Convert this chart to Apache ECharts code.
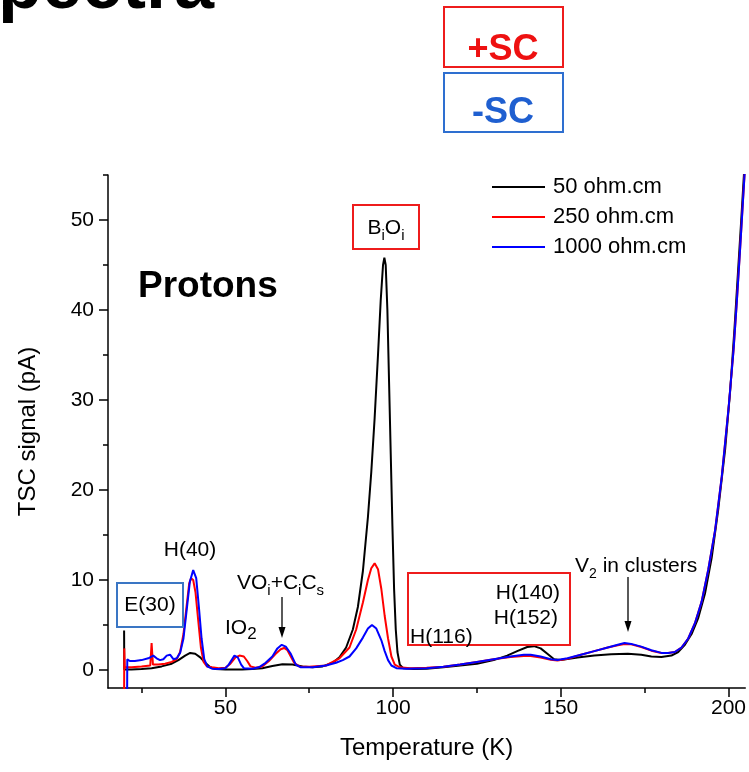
<!DOCTYPE html>
<html><head><meta charset="utf-8">
<script src="https://cdn.jsdelivr.net/npm/echarts@6/dist/echarts.min.js"></script>
<style>html,body{margin:0;padding:0;background:#fff}#c{width:749px;height:772px}</style>
</head><body><div id="c"></div><script>
const seriesNames = ['50 ohm.cm', '250 ohm.cm', '1000 ohm.cm'];
const seriesColors = ['#000000', '#ff0000', '#0000ff'];

const blackT = [19.8,19.85,20.3,22,25,28,31,34,36,38,39.5,41,42.5,44,45.5,47,50,55,58,61,64,67,70,73,76,79,82,84,86,88,89.5,91,92.5,93.5,94.5,95.5,96.3,97,97.4,97.8,98.3,98.8,99.3,99.8,100.3,100.8,101.3,102,103,106,110,115,120,125,130,134,137,140,142,144,146,148,150,155,160,165,170,174,177,180,183,185,187,189,191,193,195,197,199,200.5,201.8,202.8,203.8,204.6,205.3];
const blackV = [4.4,0.05,0.05,0.05,0.1,0.2,0.4,0.7,1.1,1.6,1.9,1.8,1.4,0.8,0.3,0.1,0.05,0.05,0.1,0.2,0.45,0.65,0.6,0.4,0.3,0.4,0.8,1.4,2.5,4.5,7,11,17,22,28,35,41,45,45.8,45,40,32,24,16,9,4.5,2,0.6,0.2,0.1,0.15,0.3,0.5,0.7,1.1,1.6,2.1,2.55,2.65,2.4,1.8,1.2,1.1,1.4,1.6,1.75,1.8,1.7,1.5,1.45,1.6,2.0,2.8,4.0,5.8,8.5,12.5,18,24.5,31,38,44,50,55,60];

const redT = [19.8,19.85,20.0,22,25,27.6,28.0,28.4,30,32,34,35.5,36.5,37.5,38.4,39.2,39.8,40.4,41.1,41.9,42.7,43.5,44.5,46,48,50,51.5,53,54.2,55.5,56.5,57.5,59,61,63,65,66.5,67.5,68.5,69.5,70.5,72,75,80,84,87,89,91,92.5,93.5,94.5,95.5,96.5,97.5,98.5,99.5,100.5,102,105,110,115,120,125,130,135,139,141,144,147,149,152,156,160,164,167,169,171,174,177,180,182,184,186,188,190,192,194,196,198,200,201.5,202.5,203.5,204.3,205.1];
const redV = [-3,2.4,0.3,0.3,0.4,0.5,3.0,0.6,0.6,0.7,0.9,1.2,2.0,4.0,7.0,9.6,10.2,10.0,8.6,5.5,2.5,0.9,0.4,0.3,0.2,0.25,0.7,1.4,1.6,1.5,1.0,0.4,0.25,0.4,1.0,1.8,2.3,2.45,2.2,1.5,0.8,0.4,0.35,0.5,1.3,2.5,4.5,7.5,10,11.3,11.85,11.2,9,6,3.5,1.5,0.6,0.3,0.2,0.25,0.35,0.6,0.9,1.2,1.45,1.55,1.55,1.4,1.15,1.05,1.25,1.7,2.1,2.5,2.75,2.9,2.85,2.55,2.15,1.9,1.9,2.0,2.5,3.5,5.2,7.6,11.2,15.5,21.5,29,35.5,41,47,52,57];

const blueT = [20.7,20.75,21.5,23,25,27,28.5,29.5,30.5,31.5,32.5,33.5,34.5,35.5,36.5,37.5,38.5,39.4,40.4,41.3,42.1,42.9,43.7,44.6,46,48,50,51,52.7,53.7,54.7,55.5,58,60,62,64,65.5,66.8,68,69.5,71,72.5,76,80,83,85,87,89,91,92.5,93.7,95,96.5,97.5,98.5,99.5,101,104,110,115,120,125,130,135,139,141,144,147,149,152,156,160,164,167,169,171,174,177,180,182,184,186,188,190,192,194,196,198,200,201.5,202.5,203.5,204.3,205.1];
const blueV = [-3,1.2,1.0,1.0,1.1,1.3,1.6,1.3,1.1,1.2,1.6,1.7,1.2,1.3,1.9,3.5,6.8,9.8,11.1,10.2,7.0,3.5,1.2,0.4,0.15,0.1,0.2,0.6,1.6,1.4,0.6,0.2,0.15,0.3,0.8,1.5,2.4,2.8,2.6,1.8,0.6,0.3,0.3,0.5,0.8,1.1,1.5,2.4,3.6,4.6,5.0,4.6,3.3,2.1,1.1,0.5,0.2,0.15,0.2,0.35,0.6,0.9,1.2,1.5,1.7,1.7,1.5,1.2,1.1,1.3,1.7,2.1,2.5,2.8,3.0,2.9,2.6,2.2,1.9,1.9,2.0,2.5,3.5,5.2,7.6,11.2,15.5,21.5,29,35.5,41,47,52,57];

const xMajorTicks = [50, 100, 150, 200];
const xMinorTicks = [25, 75, 125, 175];
const yMajorTicks = [0, 10, 20, 30, 40, 50];
const yMinorTicks = [5, 15, 25, 35, 45, 55];

const FONT = '"Liberation Sans", Arial, sans-serif';
const zip = (t, v) => t.map((x, i) => [x, v[i]]);
const seriesData = [zip(blackT, blackV), zip(redT, redV), zip(blueT, blueV)];

const chart = echarts.init(document.getElementById('c'), null, {renderer: 'canvas'});

const axisLineStyle = {color: '#000', width: 1.5};
const sub = (fs) => ({fontSize: fs, lineHeight: fs, verticalAlign: 'bottom', fontFamily: FONT, fill: '#000'});

function txt(x, y, text, size, opts) {
  return Object.assign({type: 'text', z: 100, style: Object.assign({
    x: x, y: y, text: text, fill: '#000', font: size + 'px ' + FONT,
    align: 'left', verticalAlign: 'middle'}, opts || {})});
}
function richTxt(x, y, text, size, subSize, align) {
  return {type: 'text', z: 100, style: {
    x: x, y: y, text: text, align: align || 'left', verticalAlign: 'middle',
    fill: '#000', fontSize: size, fontFamily: FONT,
    rich: {m: {fontSize: size, lineHeight: 30, fontFamily: FONT, verticalAlign: 'middle'}, s: sub(subSize)}
  }};
}
function box(x, y, w, h, color) {
  return {type: 'rect', z: 90, shape: {x: x, y: y, width: w, height: h},
    style: {fill: 'none', stroke: color, lineWidth: 2}};
}
function arrow(x, y1, y2) {
  return [
    {type: 'line', z: 95, shape: {x1: x, y1: y1, x2: x, y2: y2 - 8}, style: {stroke: '#000', lineWidth: 1.3}},
    {type: 'polygon', z: 95, shape: {points: [[x - 3.5, y2 - 11], [x + 3.5, y2 - 11], [x, y2]]}, style: {fill: '#000'}}
  ];
}

const graphics = [
  {type: 'text', z: 100, style: {x: -50, y: -12, text: 'Spectra', font: 'bold 72px ' + FONT, fill: '#000', align: 'left', verticalAlign: 'middle'}},
  box(444, 7, 119, 60, '#ee1c1c'),
  {type: 'text', z: 100, style: {x: 503, y: 50, text: '+SC', font: 'bold 36px ' + FONT, fill: '#ee1111', align: 'center', verticalAlign: 'middle'}},
  box(444, 73, 119, 59, '#2e6fd0'),
  {type: 'text', z: 100, style: {x: 503, y: 113, text: '-SC', font: 'bold 36px ' + FONT, fill: '#1f5fd0', align: 'center', verticalAlign: 'middle'}},
  txt(138, 287, 'Protons', 37, {font: 'bold 37px ' + FONT}),
  box(353, 205, 66, 44, '#ee1c1c'),
  richTxt(386, 228, '{m|B}{s|i}{m|O}{s|i}', 21, 15, 'center'),
  txt(190, 550, 'H(40)', 21, {align: 'center'}),
  box(117, 583, 66, 44, '#3a76c4'),
  txt(150, 605, 'E(30)', 21, {align: 'center'}),
  richTxt(225, 628, '{m|IO}{s|2}', 21, 17, 'left'),
  richTxt(237, 583, '{m|VO}{s|i}{m|+C}{s|i}{m|C}{s|s}', 21, 15, 'left'),
  box(408, 573, 162, 72, '#ee1c1c'),
  txt(560, 593, 'H(140)', 21, {align: 'right'}),
  txt(558, 618, 'H(152)', 21, {align: 'right'}),
  txt(410, 637, 'H(116)', 21, {align: 'left'}),
  richTxt(575, 566, '{m|V}{s|2}{m| in clusters}', 21, 14, 'left')
].concat(arrow(282, 597, 638), arrow(628, 577, 632));

const option = {
  animation: false,
  backgroundColor: '#fff',
  grid: {left: 108, right: 1, top: 175, bottom: 84, containLabel: false},
  legend: {
    data: seriesNames, orient: 'vertical', left: 492, top: 172, padding: 0, itemGap: 0,
    icon: 'rect', itemWidth: 53, itemHeight: 2,
    textStyle: {fontSize: 22, fontFamily: FONT, color: '#000', lineHeight: 30, padding: [0, 0, 0, 3]}
  },
  xAxis: [
    {type: 'value', min: 15, max: 205, position: 'bottom',
      axisLine: {show: true, lineStyle: axisLineStyle, onZero: false},
      axisTick: {show: true, length: 9, inside: false, customValues: xMajorTicks, lineStyle: axisLineStyle},
      axisLabel: {customValues: xMajorTicks, fontSize: 21, fontFamily: FONT, color: '#000', margin: 10},
      splitLine: {show: false},
      name: 'Temperature (K)', nameLocation: 'middle', nameGap: 48,
      nameTextStyle: {fontSize: 24, fontFamily: FONT, color: '#000'}},
    {type: 'value', min: 15, max: 205, position: 'bottom', gridIndex: 0,
      axisLine: {show: false, onZero: false},
      axisTick: {show: true, length: 5, customValues: xMinorTicks, lineStyle: axisLineStyle},
      axisLabel: {show: false}, splitLine: {show: false}}
  ],
  yAxis: [
    {type: 'value', min: -2, max: 55, position: 'left',
      axisLine: {show: true, lineStyle: axisLineStyle, onZero: false},
      axisTick: {show: true, length: 9, customValues: yMajorTicks, lineStyle: axisLineStyle},
      axisLabel: {customValues: yMajorTicks, fontSize: 21, fontFamily: FONT, color: '#000', margin: 14},
      splitLine: {show: false},
      name: 'TSC signal (pA)', nameLocation: 'middle', nameGap: 68,
      nameTextStyle: {fontSize: 24, fontFamily: FONT, color: '#000'}},
    {type: 'value', min: -2, max: 55, position: 'left', gridIndex: 0,
      axisLine: {show: false, onZero: false},
      axisTick: {show: true, length: 5, customValues: yMinorTicks, lineStyle: axisLineStyle},
      axisLabel: {show: false}, splitLine: {show: false}}
  ],
  series: seriesNames.map((n, i) => ({
    name: n, type: 'line', data: seriesData[i], xAxisIndex: 0, yAxisIndex: 0,
    showSymbol: false, symbol: 'none', clip: true, smooth: false,
    lineStyle: {color: seriesColors[i], width: 2}, itemStyle: {color: seriesColors[i]}, z: 2 + i
  })),
  graphic: graphics
};
chart.setOption(option);
</script></body></html>
